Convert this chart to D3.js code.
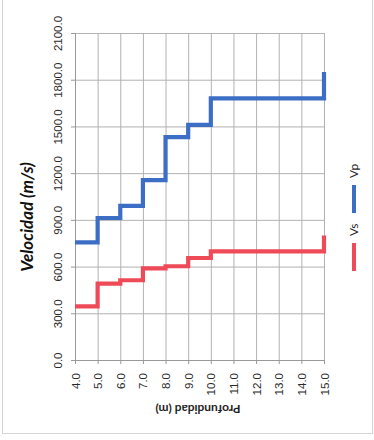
<!DOCTYPE html>
<html>
<head>
<meta charset="utf-8">
<script src="https://cdn.jsdelivr.net/npm/d3@7"></script>
<style>
  html, body { margin: 0; padding: 0; background: #fff; }
  svg { display: block; font-family: Lato, "Open Sans", sans-serif; }
</style>
</head>
<body>
<svg id="chart" width="374" height="440"></svg>
<script>
// Layer boundaries (m) and the velocity of each layer (m/s)
const depth = [4, 5, 6, 7, 8, 9, 10, 15];
const vs = [345, 490, 512, 588, 602, 655, 698, 800];
const vp = [755, 912, 990, 1155, 1431, 1510, 1680, 1850];

const depthTicks = [4, 5, 6, 7, 8, 9, 10, 11, 12, 13, 14, 15];
const velocityTicks = [0, 300, 600, 900, 1200, 1500, 1800, 2100];

const seriesNames = ["Vs", "Vp"];
const seriesColors = ["#ef4a57", "#3c6ec6"];

const svg = d3.select("#chart");

// Frame of the sheet
svg.append("rect")
  .attr("x", 2.5).attr("y", -2)
  .attr("width", 370).attr("height", 435.5)
  .attr("fill", "none").attr("stroke", "#d4d4d4").attr("stroke-width", 1);

const x = d3.scaleLinear().domain([4, 15]).range([75, 324]);
const y = d3.scaleLinear().domain([0, 2100]).range([360, 33]);

const gridColor = "#b2b2b2";

// Gridlines
svg.append("g")
  .attr("transform", `translate(0,${y(0)})`)
  .call(d3.axisBottom(x).tickValues(depthTicks).tickSize(-(y(0) - y(2100))).tickFormat(""))
  .call(g => g.select(".domain").remove())
  .call(g => g.selectAll("line").attr("stroke", gridColor));

svg.append("g")
  .attr("transform", `translate(${x(4)},0)`)
  .call(d3.axisLeft(y).tickValues(velocityTicks).tickSize(-(x(15) - x(4))).tickFormat(""))
  .call(g => g.select(".domain").remove())
  .call(g => g.selectAll("line").attr("stroke", gridColor));

// Depth axis (labels turned to read upward)
svg.append("g")
  .attr("transform", `translate(0,${y(0)})`)
  .call(d3.axisBottom(x).tickValues(depthTicks).tickSize(4).tickFormat(d => d.toFixed(1)))
  .call(g => g.select(".domain").attr("stroke", "#999"))
  .call(g => g.selectAll("line").attr("stroke", "#999"))
  .call(g => g.selectAll("text")
    .attr("transform", "rotate(-90)")
    .attr("x", -13).attr("y", 0).attr("dy", "0.35em")
    .attr("text-anchor", "end")
    .attr("font-size", 11.5).attr("fill", "#2a2a2a"));

// Velocity axis
svg.append("g")
  .attr("transform", `translate(${x(4)},0)`)
  .call(d3.axisLeft(y).tickValues(velocityTicks).tickSize(4).tickFormat(d => d.toFixed(1)))
  .call(g => g.select(".domain").attr("stroke", "#999"))
  .call(g => g.selectAll("line").attr("stroke", "#999"))
  .call(g => g.selectAll("text")
    .attr("transform", "rotate(-90)")
    .attr("x", 0).attr("y", -17).attr("dy", "0.35em")
    .attr("text-anchor", "middle")
    .attr("font-size", 11.5).attr("fill", "#2a2a2a"));

// Step profiles
const line = d3.line()
  .x(d => x(d[0]))
  .y(d => y(d[1]))
  .curve(d3.curveStepAfter);

[vs, vp].forEach((values, i) => {
  svg.append("path")
    .datum(depth.map((d, j) => [d, values[j]]))
    .attr("d", line)
    .attr("fill", "none")
    .attr("stroke", seriesColors[i])
    .attr("stroke-width", 4.2);
});

// Axis titles
svg.append("text")
  .attr("transform", "translate(27,217) rotate(-90)")
  .attr("text-anchor", "middle").attr("dy", "0.35em")
  .attr("font-size", 17).attr("font-weight", "bold").attr("font-style", "italic")
  .attr("fill", "#111")
  .text("Velocidad (m/s)");

svg.append("text")
  .attr("transform", "translate(198,409) rotate(180)")
  .attr("text-anchor", "middle").attr("dy", "0.35em")
  .attr("font-size", 12).attr("font-weight", "bold")
  .attr("fill", "#1e1e1e")
  .text("Profundidad (m)");

// Legend, running upward along the right edge
const legend = svg.append("g").attr("transform", "translate(354,271) rotate(-90)");
const legendStarts = [0, 58];
seriesNames.forEach((name, i) => {
  const item = legend.append("g").attr("transform", `translate(${legendStarts[i]},0)`);
  item.append("line")
    .attr("x1", 0).attr("x2", 28).attr("y1", 0).attr("y2", 0)
    .attr("stroke", seriesColors[i]).attr("stroke-width", 4);
  item.append("text")
    .attr("x", 35).attr("dy", "0.35em")
    .attr("font-size", 12).attr("fill", "#2a2a2a")
    .text(name);
});
</script>
</body>
</html>
